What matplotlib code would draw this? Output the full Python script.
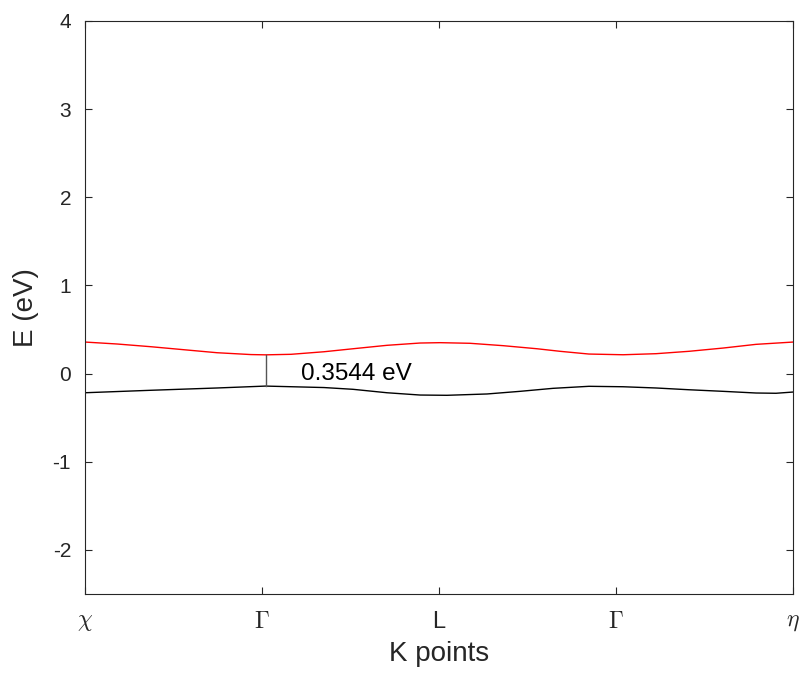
import matplotlib
matplotlib.use("Agg")
import matplotlib.pyplot as plt

plt.rcParams["font.family"] = ["Liberation Sans", "DejaVu Sans"]
plt.rcParams["mathtext.fontset"] = "cm"
plt.rcParams["axes.unicode_minus"] = False

# k-path: chi=0, Gamma=1, L=2, Gamma=3, eta=4
k_cond = [0, 0.181, 0.373, 0.559, 0.746, 0.938, 1.02, 1.164, 1.350, 1.514, 1.706,
          1.893, 2.006, 2.175, 2.362, 2.554, 2.684, 2.847, 3.040, 3.226, 3.412,
          3.605, 3.791, 4]
conduction = [0.358, 0.336, 0.305, 0.271, 0.237, 0.216, 0.213, 0.219, 0.248, 0.282,
              0.321, 0.347, 0.351, 0.344, 0.317, 0.282, 0.253, 0.222, 0.214, 0.226,
              0.253, 0.290, 0.332, 0.358]

k_val = [0, 0.373, 0.746, 1.02, 1.350, 1.514, 1.706, 1.893, 2.045, 2.271, 2.458,
         2.644, 2.847, 3.040, 3.226, 3.412, 3.605, 3.791, 3.904, 4]
valence = [-0.217, -0.189, -0.163, -0.1414, -0.158, -0.178, -0.217, -0.243, -0.246,
           -0.231, -0.201, -0.167, -0.144, -0.149, -0.163, -0.183, -0.201, -0.220,
           -0.223, -0.209]

tick_pos = [0, 1, 2, 3, 4]
tick_labels = [r"$\chi$", r"$\Gamma$", "L", r"$\Gamma$", r"$\eta$"]
gap_k = 1.02
gap_lo, gap_hi = -0.1414, 0.2130
gap_text = "0.3544 eV"

fig = plt.figure(figsize=(8.06, 6.73), dpi=100)
ax = fig.add_axes([85 / 806, 1 - 594 / 673, 708 / 806, 573 / 673])

ax.plot(k_cond, conduction, color="red", lw=1.0)
ax.plot(k_val, valence, color="black", lw=1.0)
ax.plot([gap_k, gap_k], [gap_lo, gap_hi], color="#555555", lw=1.0)
ax.text(1.22, 0.0, gap_text, fontsize=17.5, va="center", ha="left")

ax.set_xlim(0, 4)
ax.set_ylim(-2.5, 4)
ax.set_xticks(tick_pos)
ax.set_xticklabels(tick_labels)
ax.set_yticks(range(-2, 5))
ax.tick_params(direction="in", length=5, width=0.8, colors="#262626",
               top=True, right=True)
ax.tick_params(axis="y", labelsize=15, pad=10)
ax.tick_params(axis="x", labelsize=17, pad=12)
for s in ax.spines.values():
    s.set_color("#262626")
    s.set_linewidth(0.8)

ax.set_xlabel("K points", fontsize=20, labelpad=6, color="#262626")
ax.set_ylabel("E (eV)", fontsize=20, labelpad=10, color="#262626")

fig.savefig("out.png", dpi=100)
